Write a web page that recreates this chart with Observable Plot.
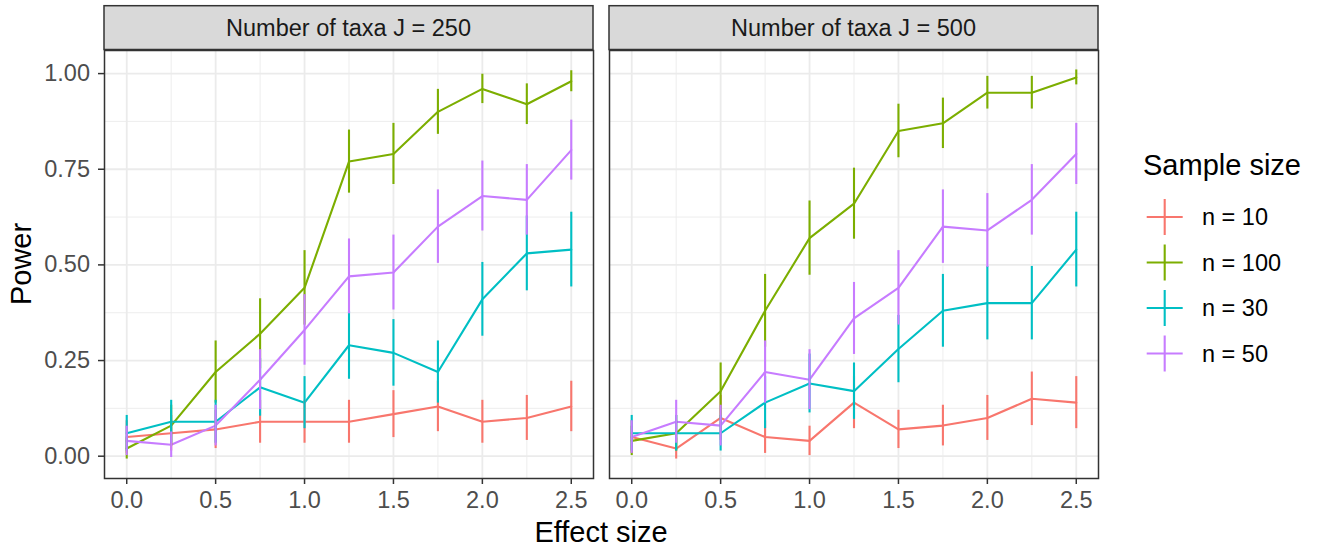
<!DOCTYPE html>
<html><head><meta charset="utf-8">
<script src="https://cdn.jsdelivr.net/npm/d3@7"></script>
<script src="https://cdn.jsdelivr.net/npm/@observablehq/plot@0.6"></script>
<style>
html,body{margin:0;padding:0;background:#fff;}
#root{position:relative;width:1317px;height:548px;overflow:hidden;font-family:"Liberation Sans",Arial,Helvetica,sans-serif;}
#root svg{position:absolute;top:0;}
g[aria-label="x-axis tick label"], g[aria-label="y-axis tick label"]{fill:#4D4D4D;}
</style></head><body><div id="root"></div><script>
// ---- data ----
const effectSizes = [0, 0.25, 0.5, 0.75, 1.0, 1.25, 1.5, 1.75, 2.0, 2.25, 2.5];
const sampleSizes = ["n = 10", "n = 100", "n = 30", "n = 50"];
const panels = ["Number of taxa J = 250", "Number of taxa J = 500"];
const seriesColors = ["#F8766D", "#7CAE00", "#00BFC4", "#C77CFF"];
const nReplicates = 100; // simulations per point (binomial CI)

const power_J250_n10  = [0.05, 0.06, 0.07, 0.09, 0.09, 0.09, 0.11, 0.13, 0.09, 0.10, 0.13];
const power_J250_n100 = [0.02, 0.08, 0.22, 0.32, 0.44, 0.77, 0.79, 0.90, 0.96, 0.92, 0.98];
const power_J250_n30  = [0.06, 0.09, 0.09, 0.18, 0.14, 0.29, 0.27, 0.22, 0.41, 0.53, 0.54];
const power_J250_n50  = [0.04, 0.03, 0.08, 0.20, 0.33, 0.47, 0.48, 0.60, 0.68, 0.67, 0.80];

const power_J500_n10  = [0.05, 0.02, 0.10, 0.05, 0.04, 0.14, 0.07, 0.08, 0.10, 0.15, 0.14];
const power_J500_n100 = [0.04, 0.06, 0.17, 0.38, 0.57, 0.66, 0.85, 0.87, 0.95, 0.95, 0.99];
const power_J500_n30  = [0.06, 0.06, 0.06, 0.14, 0.19, 0.17, 0.28, 0.38, 0.40, 0.40, 0.54];
const power_J500_n50  = [0.05, 0.09, 0.08, 0.22, 0.20, 0.36, 0.44, 0.60, 0.59, 0.67, 0.79];

const xMajor = [0, 0.5, 1.0, 1.5, 2.0, 2.5];
const xMinor = [0.25, 0.75, 1.25, 1.75, 2.25];
const yMajor = [0, 0.25, 0.5, 0.75, 1.0];
const yMinor = [0.125, 0.375, 0.625, 0.875];

// ---- table ----
const bySeries = {
  "Number of taxa J = 250": [power_J250_n10, power_J250_n100, power_J250_n30, power_J250_n50],
  "Number of taxa J = 500": [power_J500_n10, power_J500_n100, power_J500_n30, power_J500_n50]
};
const data = [];
for (const J of panels) {
  bySeries[J].forEach((vals, si) => {
    vals.forEach((p, i) => {
      const se = Math.sqrt(p * (1 - p) / nReplicates);
      data.push({J, n: sampleSizes[si], effect: effectSizes[i], power: p, lo: p - 1.96 * se, hi: p + 1.96 * se});
    });
  });
}
// ggplot-like 5% expansion
const ext = [d3.min(data, d => d.lo), d3.max(data, d => d.hi)];
const pad = (ext[1] - ext[0]) * 0.05;
const yDomain = [ext[0] - pad, ext[1] + pad];
const xDomain = [-0.125, 2.625];

const root = document.getElementById("root");
const FONT = '"Liberation Sans",Arial,Helvetica,sans-serif';
const layout = [{left: 0, width: 600, ml: 104}, {left: 600, width: 505, ml: 9}];
const MR = 7, MT = 50, MB = 70, H = 548;
const LW = 2.1;

panels.forEach((J, idx) => {
  const rows = data.filter(d => d.J === J);
  const L = layout[idx];
  const chart = Plot.plot({
    width: L.width, height: H,
    marginLeft: L.ml, marginRight: MR, marginTop: MT, marginBottom: MB,
    x: {domain: xDomain, axis: null},
    y: {domain: yDomain, axis: null},
    color: {domain: sampleSizes, range: seriesColors},
    style: {fontFamily: FONT, fontSize: "23.5px", background: "transparent", overflow: "visible", color: "#333333"},
    marks: [
      Plot.ruleX(xMinor, {stroke: "#EBEBEB", strokeWidth: 0.9}),
      Plot.ruleY(yMinor, {stroke: "#EBEBEB", strokeWidth: 0.9}),
      Plot.ruleX(xMajor, {stroke: "#EBEBEB", strokeWidth: 1.8}),
      Plot.ruleY(yMajor, {stroke: "#EBEBEB", strokeWidth: 1.8}),
      Plot.line(rows, {x: "effect", y: "power", z: "n", stroke: "n", strokeWidth: LW}),
      Plot.ruleX(rows, {x: "effect", y1: "lo", y2: "hi", stroke: "n", strokeWidth: LW}),
      Plot.frame({stroke: "#333333", strokeWidth: 1.5}),
      Plot.axisX(xMajor, {tickSize: 6, tickPadding: 7, tickFormat: d3.format(".1f"), stroke: "#333333", strokeWidth: 1.5, label: null}),
      idx === 0 ? Plot.axisY(yMajor, {tickSize: 6, tickPadding: 8.5, tickFormat: d3.format(".2f"), stroke: "#333333", strokeWidth: 1.5, label: null}) : null
    ]
  });
  chart.style.left = L.left + "px";
  root.appendChild(chart);
});

// ---- overlay: strips, axis titles, legend ----
const svg = d3.create("svg").attr("width", 1317).attr("height", 548)
  .style("font-family", FONT).style("pointer-events", "none");
panels.forEach((J, idx) => {
  const L = layout[idx];
  const x0 = L.left + L.ml, x1 = L.left + L.width - MR;
  svg.append("rect").attr("x", x0).attr("y", 5.7).attr("width", x1 - x0).attr("height", 43.8)
    .attr("fill", "#D9D9D9").attr("stroke", "#333333").attr("stroke-width", 1.5);
  svg.append("text").attr("x", (x0 + x1) / 2).attr("y", 36.4).attr("text-anchor", "middle")
    .attr("font-size", 23.5).attr("fill", "#1A1A1A").text(J);
});
svg.append("text").attr("transform", "translate(31,264) rotate(-90)").attr("text-anchor", "middle")
  .attr("font-size", 29).attr("fill", "#000").text("Power");
svg.append("text").attr("x", 601).attr("y", 542).attr("text-anchor", "middle")
  .attr("font-size", 29).attr("fill", "#000").text("Effect size");
svg.append("text").attr("x", 1143).attr("y", 175).attr("font-size", 29).attr("fill", "#000").text("Sample size");
sampleSizes.forEach((s, i) => {
  const cy = 217 + i * 45.5;
  const g = svg.append("g");
  g.append("line").attr("x1", 1146.7).attr("x2", 1182.7).attr("y1", cy).attr("y2", cy)
    .attr("stroke", seriesColors[i]).attr("stroke-width", LW);
  g.append("line").attr("x1", 1164.7).attr("x2", 1164.7).attr("y1", cy - 18).attr("y2", cy + 18)
    .attr("stroke", seriesColors[i]).attr("stroke-width", LW);
  g.append("text").attr("x", 1202).attr("y", cy + 8.4).attr("font-size", 23.5).attr("fill", "#000").text(s);
});
const o = svg.node();
o.style.left = "0px";
root.appendChild(o);
</script></body></html>
